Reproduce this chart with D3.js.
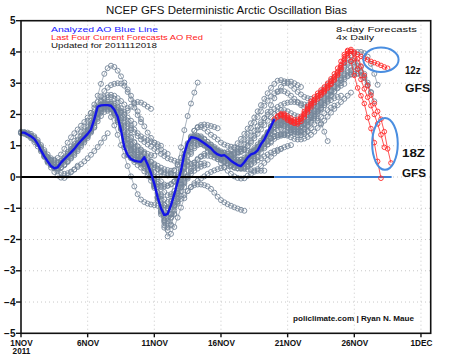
<!DOCTYPE html>
<html><head><meta charset="utf-8">
<script src="https://cdn.jsdelivr.net/npm/d3@7/dist/d3.min.js"></script>
<style>
html,body{margin:0;padding:0;background:#fff;}
svg{display:block;}
text{font-family:"Liberation Sans",Arial,sans-serif;}
</style></head><body>
<svg id="chart" width="474" height="355"></svg>
<script>
// ---------- DATA ----------
const xTickDays = [0, 5, 10, 15, 20, 25, 30];
const xTickLabels = ["1NOV", "6NOV", "11NOV", "16NOV", "21NOV", "26NOV", "1DEC"];
const yTicks = [5, 4, 3, 2, 1, 0, -1, -2, -3, -4, -5];
const stepDays = 0.25; // 6-hourly values

// analyzed AO (blue), from day 0 every 6 h
const analyzedStart = 0;
const analyzed = [1.42,1.42,1.36,1.30,1.22,1.06,0.85,0.66,0.50,0.35,0.28,0.31,0.46,0.57,0.68,0.79,
  0.90,1.04,1.16,1.27,1.38,1.52,1.85,2.25,2.29,2.30,2.30,2.28,2.15,1.93,1.50,0.95,
  0.70,0.58,0.52,0.50,0.49,0.63,0.40,0.12,-0.22,-0.65,-1.00,-1.22,-1.18,-0.90,-0.55,-0.15,
  0.20,0.75,1.10,1.27,1.26,1.22,1.15,1.08,1.00,0.92,0.80,0.72,0.68,0.70,0.62,0.52,
  0.45,0.38,0.35,0.47,0.62,0.72,0.76,0.85,1.05,1.20,1.42,1.62,1.85];

// gray 8-day forecasts: start day and 6-hourly values
const grayStarts = [0, 0, 0, 0, 0, 0.25, 0.5, 1.0, 1.25, 1.75, 2.0, 2.5, 3.0, 3.5, 3.75, 4.0, 4.5, 5.0, 5.25,
  5.75, 6.0, 6.75, 7.0, 7.25, 7.75, 8.0, 8.75, 9.0, 9.5, 9.75, 10.25, 10.75, 11.0, 11.5, 12.0, 12.25,
  12.75, 13.0, 13.5, 13.75, 14.25, 14.5, 15.0, 15.5, 16.0, 16.25, 16.75, 17.0, 17.25, 17.75, 18.0, 18.25, 18.5, 18.75];
const grayRuns = [
  [1.45,1.40,1.33,1.24,1.12,0.98,0.82,0.64,0.46,0.30,0.16,0.05,-0.02,-0.03,0.05,0.15,0.24,0.36],
  [1.42,1.40,1.35,1.28,1.18,1.05,0.90,0.74,0.58,0.43,0.30,0.20,0.13,0.10,0.12,0.17,0.24,0.32,0.41,0.50,0.60,0.71,0.83,0.96,1.10,1.25,1.40],
  [1.42,1.44,1.42,1.38,1.30,1.18,1.02,0.86,0.72,0.60,0.52,0.48,0.50,0.56,0.64,0.74,0.86,0.98,1.10,1.22,1.34,1.46,1.58],
  [1.40,1.38,1.34,1.28,1.20,1.08,0.92,0.76,0.62,0.50,0.42],
  [1.42,1.41,1.37,1.32,1.25,1.10,0.92,0.72,0.55,0.44,0.38,0.40,0.45,0.58,0.74,0.90,1.05,1.18,1.30,1.44,1.60,1.80,2.02,2.25,2.45,2.55,2.62,2.63,2.60,2.52,2.43,2.32,2.20],
  [1.42,1.38,1.33,1.25,1.12,0.96,0.80,0.65,0.53,0.46,0.45,0.52,0.63,0.75,0.86,0.97,1.08,1.20,1.33,1.48,1.66,1.88,2.10,2.28,2.38,2.40,2.34,2.22,2.06,1.90,1.75,1.62,1.50],
  [1.36,1.30,1.20,1.05,0.86,0.67,0.50,0.38,0.30,0.27,0.30,0.38,0.48,0.59,0.70,0.83,0.97,1.11,1.25,1.42,1.60,1.78,1.95,2.08,2.17,2.21,2.20,2.14,2.06,1.98,1.90,1.80,1.70],
  [1.22,1.08,0.90,0.74,0.62,0.55,0.55,0.61,0.72,0.90,1.10,1.27,1.40,1.52,1.64,1.76,1.90,2.05,2.22,2.40,2.58,2.75,2.86,2.94,2.98,3.00,2.99,2.92,2.72,2.48,2.22,1.98,1.76],
  [1.06,0.88,0.70,0.54,0.40,0.30,0.26,0.30,0.40,0.52,0.66,0.80,0.94,1.08,1.20,1.32,1.46,1.64,1.86,2.06,2.18,2.22,2.18,2.05,1.86,1.64,1.42,1.22,1.06,0.94,0.86,0.80,0.76],
  [0.66,0.52,0.40,0.32,0.29,0.30,0.38,0.50,0.62,0.75,0.88,1.02,1.16,1.30,1.50,1.72,1.92,2.10,2.22,2.30,2.32,2.28,2.20,2.12,2.08,2.12,2.25,2.38,2.40,2.38,2.32,2.25,2.18],
  [0.50,0.38,0.30,0.30,0.40,0.52,0.65,0.78,0.92,1.06,1.20,1.34,1.48,1.64,1.82,2.00,2.16,2.26,2.30,2.26,2.16,2.00,1.82,1.62,1.42,1.25,1.10,0.98,0.88,0.80,0.74,0.70,0.68],
  [0.28,0.33,0.45,0.58,0.70,0.83,0.95,1.08,1.22,1.36,1.50,1.72,1.98,2.22,2.40,2.50,2.55,2.55,2.50,2.38,2.20,2.00,1.80,1.65,1.52,1.40,1.30,1.24,1.18,1.14,1.10,1.05,1.00],
  [0.46,0.62,0.80,0.98,1.15,1.30,1.45,1.62,1.80,2.05,2.32,2.60,2.98,3.30,3.48,3.56,3.52,3.40,3.22,3.02,2.80,2.60,2.35,2.10,1.85,1.62,1.42,1.25,1.10,0.98,0.88,0.80,0.74],
  [0.68,0.80,0.92,1.04,1.15,1.26,1.38,1.55,1.80,2.05,2.22,2.30,2.30,2.22,2.05,1.82,1.56,1.30,1.08,0.92,0.80,0.72,0.66,0.60,0.54,0.48,0.42,0.36,0.30,0.25,0.22,0.20,0.20],
  [0.79,0.92,1.05,1.18,1.31,1.45,1.65,1.90,2.12,2.30,2.36,2.35,2.25,2.10,1.88,1.62,1.35,1.10,0.95,0.82,0.70,0.60,0.52,0.44,0.36,0.30,0.24,0.19,0.14,0.10,0.08,0.06,0.05],
  [0.90,1.02,1.14,1.26,1.40,1.58,1.80,2.02,2.18,2.26,2.26,2.18,2.02,1.80,1.55,1.30,1.06,0.86,0.70,0.56,0.42,0.28,0.14,0.00,-0.12,-0.22,-0.28,-0.30,-0.28,-0.22,-0.14,-0.05,0.05],
  [1.16,1.27,1.40,1.60,1.82,2.00,2.15,2.26,2.33,2.36,2.35,2.25,2.08,1.88,1.70,1.56,1.43,1.31,1.20,1.12,1.04,0.97,0.90,0.82,0.74,0.67,0.60,0.56,0.52,0.48,0.45,0.42,0.40],
  [1.38,1.55,1.78,2.02,2.20,2.30,2.32,2.26,2.12,1.92,1.68,1.44,1.22,1.04,0.90,0.78,0.68,0.58,0.46,0.32,0.16,0.00,-0.14,-0.24,-0.28,-0.24,-0.14,0.00,0.14,0.26,0.36,0.42,0.46],
  [1.52,1.80,2.05,2.20,2.22,2.12,1.92,1.65,1.35,1.02,0.68,0.35,0.02,-0.30,-0.55,-0.72,-0.80,-0.85,-0.88,-0.90,-0.92,-0.95,-0.98,-1.00,-0.62,-0.15,0.38,0.95,1.50,1.95,2.35,2.70,3.02],
  [2.25,2.32,2.34,2.28,2.16,1.98,1.76,1.52,1.28,1.06,0.88,0.74,0.64,0.56,0.46,0.32,0.14,-0.08,-0.32,-0.55,-0.72,-0.80,-0.78,-0.68,-0.52,-0.34,-0.16,0.02,0.18,0.30,0.38,0.42,0.44],
  [2.29,2.30,2.25,2.18,2.05,1.82,1.55,1.28,1.02,0.85,0.70,0.56,0.45,0.35,0.24,0.12,0.00,-0.15,-0.32,-0.48,-0.58,-0.55,-0.45,-0.35,-0.25,-0.12,0.00,0.10,0.20,0.27,0.33,0.37,0.40],
  [2.28,2.22,2.08,1.88,1.65,1.45,1.28,1.12,0.98,0.85,0.74,0.62,0.50,0.38,0.26,0.15,0.08,0.05,0.10,0.22,0.40,0.62,0.85,1.08,1.30,1.48,1.60,1.66,1.68,1.66,1.63,1.60,1.56],
  [2.15,1.90,1.58,1.22,0.92,0.72,0.60,0.54,0.50,0.46,0.36,0.18,-0.05,-0.32,-0.62,-0.88,-1.02,-1.02,-0.90,-0.70,-0.46,-0.20,0.05,0.28,0.46,0.58,0.65,0.68,0.68,0.66,0.62,0.58,0.55],
  [1.93,1.55,1.15,0.82,0.62,0.48,0.38,0.30,0.18,0.04,-0.12,-0.30,-0.50,-0.72,-0.90,-1.00,-0.98,-0.90,-0.80,-0.70,-0.58,-0.45,-0.32,-0.20,-0.12,-0.05,0.02,0.10,0.16,0.21,0.25,0.28,0.30],
  [0.95,0.72,0.60,0.54,0.52,0.52,0.48,0.34,0.10,-0.20,-0.55,-0.90,-1.18,-1.30,-1.20,-0.95,-0.60,-0.22,0.15,0.48,0.74,0.92,1.02,1.05,1.02,0.96,0.88,0.80,0.72,0.65,0.58,0.52,0.47],
  [0.70,0.62,0.56,0.52,0.50,0.40,0.22,-0.02,-0.30,-0.62,-0.98,-1.30,-1.40,-1.30,-1.08,-0.85,-0.60,-0.32,-0.05,0.20,0.40,0.55,0.66,0.74,0.80,0.80,0.77,0.73,0.70,0.68,0.65,0.62,0.60],
  [0.50,0.45,0.42,0.25,0.00,-0.35,-0.75,-1.20,-1.62,-1.90,-1.82,-1.60,-1.30,-0.98,-0.68,-0.45,-0.32,-0.26,-0.24,-0.24,-0.26,-0.30,-0.38,-0.50,-0.63,-0.74,-0.81,-0.87,-0.92,-0.97,-1.01,-1.05,-1.08],
  [0.49,0.58,0.40,0.10,-0.25,-0.68,-1.10,-1.45,-1.62,-1.52,-1.20,-0.78,-0.32,0.12,0.50,0.80,0.98,1.06,1.06,1.00,0.92,0.84,0.74,0.64,0.55,0.47,0.40,0.34,0.30,0.28,0.30,0.34,0.40],
  [0.40,0.12,-0.22,-0.65,-1.15,-1.55,-1.70,-1.55,-1.18,-0.70,-0.20,0.30,0.82,1.25,1.48,1.58,1.60,1.55,1.45,1.35,1.28,1.20,1.10,1.04,1.00,0.97,0.94,0.91,0.88,0.86,0.84,0.82,0.80],
  [0.12,-0.25,-0.70,-1.10,-1.38,-1.42,-1.20,-0.82,-0.36,0.10,0.52,0.86,1.08,1.18,1.20,1.16,1.10,1.02,0.95,0.88,0.82,0.76,0.70,0.64,0.58,0.52,0.48,0.46,0.46,0.48,0.52,0.58,0.64],
  [-0.65,-1.05,-1.40,-1.50,-1.30,-0.92,-0.45,0.00,0.45,0.85,1.15,1.28,1.32,1.30,1.22,1.12,1.02,0.92,0.84,0.76,0.68,0.60,0.52,0.44,0.36,0.30,0.26,0.24,0.22,0.21,0.20,0.20,0.20],
  [-1.22,-1.30,-1.18,-0.90,-0.52,-0.10,0.32,0.70,0.95,1.10,1.14,1.12,1.08,1.05,0.98,0.90,0.82,0.75,0.70,0.64,0.59,0.55,0.54,0.55,0.57,0.60,0.66,0.73,0.80,0.90,0.97,1.04,1.10],
  [-1.18,-0.95,-0.62,-0.22,0.18,0.58,0.92,1.14,1.24,1.24,1.18,1.10,1.02,0.94,0.86,0.78,0.72,0.66,0.60,0.54,0.48,0.44,0.42,0.44,0.50,0.58,0.68,0.80,0.94,1.06,1.16,1.24,1.30],
  [-0.55,-0.12,0.25,0.65,1.00,1.20,1.30,1.28,1.22,1.12,1.00,0.90,0.80,0.70,0.60,0.52,0.44,0.36,0.30,0.27,0.28,0.31,0.35,0.40,0.46,0.53,0.60,0.66,0.72,0.78,0.83,0.87,0.90],
  [0.20,0.62,0.98,1.18,1.25,1.22,1.14,1.04,0.94,0.84,0.74,0.64,0.56,0.50,0.44,0.38,0.32,0.28,0.26,0.28,0.34,0.42,0.52,0.64,0.78,0.92,1.04,1.14,1.22,1.28,1.32,1.34,1.36],
  [0.75,1.05,1.22,1.26,1.24,1.18,1.08,0.96,0.83,0.70,0.57,0.44,0.32,0.20,0.10,0.02,-0.03,-0.05,-0.04,0.04,0.10,0.17,0.25,0.35,0.45,0.55,0.65,0.75,0.83,0.90,0.95,0.99,1.02],
  [1.27,1.30,1.30,1.26,1.20,1.12,1.04,0.96,0.88,0.82,0.78,0.74,0.72,0.72,0.75,0.80,0.88,0.98,1.10,1.24,1.38,1.52,1.66,1.80,1.92,2.02,2.10,2.14,2.14,2.10,2.04,1.98,1.94],
  [1.26,1.22,1.16,1.08,1.00,0.93,0.87,0.82,0.78,0.75,0.74,0.74,0.76,0.79,0.83,0.88,1.00,1.15,1.32,1.50,1.68,1.88,2.08,2.30,2.52,2.72,2.88,3.00,3.05,3.05,3.00,2.94,2.88],
  [1.15,1.08,1.00,0.92,0.84,0.76,0.70,0.66,0.62,0.58,0.55,0.54,0.56,0.62,0.70,0.80,0.92,1.04,1.16,1.28,1.40,1.50,1.58,1.64,1.66,1.64,1.60,1.54,1.48,1.44,1.42,1.44,1.48],
  [1.08,1.02,0.95,0.88,0.82,0.78,0.78,0.80,0.86,0.95,1.08,1.22,1.38,1.55,1.72,1.90,2.10,2.30,2.50,2.68,2.85,2.98,3.08,3.10,3.06,3.00,2.92,2.82,2.72,2.64,2.56,2.52,2.50],
  [0.92,0.82,0.74,0.68,0.66,0.66,0.70,0.78,0.90,1.04,1.20,1.38,1.56,1.74,1.92,2.10,2.28,2.44,2.58,2.68,2.74,2.76,2.74,2.68,2.60,2.50,2.40,2.30,2.22,2.16,2.12,2.10,2.10],
  [0.80,0.74,0.70,0.67,0.65,0.68,0.73,0.80,0.90,1.04,1.18,1.33,1.48,1.62,1.75,1.88,2.00,2.09,2.17,2.24,2.30,2.35,2.38,2.40,2.40,2.38,2.35,2.32,2.30,2.30,2.32,2.34,2.36],
  [0.68,0.62,0.55,0.48,0.42,0.40,0.43,0.50,0.60,0.70,0.80,0.90,1.00,1.08,1.16,1.23,1.30,1.34,1.37,1.39,1.40,1.42,1.46,1.52,1.60,1.72,1.84,1.92,1.94,1.88,1.72,1.45,1.15],
  [0.62,0.54,0.48,0.44,0.44,0.50,0.58,0.68,0.78,0.90,1.02,1.14,1.26,1.36,1.44,1.50,1.54,1.54,1.50,1.44,1.38,1.34,1.34,1.38,1.46,1.56,1.68,1.80,1.92,2.04,2.14,2.22,2.28],
  [0.45,0.44,0.48,0.55,0.65,0.76,0.87,0.98,1.10,1.23,1.36,1.48,1.60,1.68,1.74,1.78,1.80,1.78,1.74,1.71,1.70,1.74,1.82,1.91,2.00,2.10,2.20,2.30,2.40,2.46,2.52,2.56,2.60],
  [0.38,0.38,0.46,0.58,0.70,0.82,0.94,1.08,1.22,1.36,1.48,1.58,1.64,1.66,1.64,1.58,1.50,1.44,1.42,1.46,1.54,1.66,1.80,1.94,2.08,2.22,2.36,2.50,2.62,2.74,2.84,2.92,2.98],
  [0.47,0.58,0.67,0.76,0.85,0.95,1.05,1.15,1.25,1.30,1.33,1.35,1.35,1.32,1.27,1.22,1.20,1.20,1.23,1.28,1.35,1.45,1.57,1.68,1.80,1.93,2.06,2.18,2.30,2.40,2.50,2.60,2.70],
  [0.62,0.74,0.84,0.96,1.10,1.24,1.40,1.54,1.66,1.74,1.78,1.78,1.72,1.62,1.52,1.46,1.46,1.52,1.62,1.74,1.88,2.02,2.16,2.30,2.44,2.58,2.72,2.86,3.00,3.12,3.22,3.28,3.30],
  [0.72,0.82,0.95,1.10,1.24,1.37,1.49,1.60,1.67,1.72,1.75,1.75,1.70,1.64,1.60,1.60,1.66,1.76,1.88,2.00,2.14,2.30,2.45,2.60,2.73,2.86,2.98,3.10,3.18,3.24,3.28,3.30,3.30],
  [0.85,1.02,1.20,1.38,1.55,1.66,1.75,1.81,1.85,1.82,1.74,1.66,1.60,1.62,1.70,1.82,1.98,2.10,2.22,2.36,2.50,2.62,2.75,2.88,3.00,3.12,3.25,3.35,3.40,3.38,3.32,3.26,3.20],
  [1.05,1.24,1.44,1.62,1.76,1.84,1.86,1.80,1.70,1.60,1.54,1.54,1.60,1.70,1.84,1.98,2.12,2.26,2.40,2.54,2.66,2.78,2.90,3.02,3.16,3.30,3.42,3.50,3.52,3.46,3.34,3.16,2.94],
  [1.20,1.40,1.60,1.78,1.90,1.96,1.95,1.88,1.80,1.72,1.70,1.75,1.88,2.04,2.20,2.36,2.50,2.62,2.74,2.86,2.98,3.10,3.24,3.40,3.56,3.66,3.70,3.66,3.55,3.38,3.18,2.95,2.70],
  [1.42,1.62,1.80,1.90,1.92,1.86,1.76,1.66,1.60,1.62,1.70,1.84,2.00,2.16,2.30,2.44,2.56,2.68,2.80,2.92,3.04,3.18,3.34,3.50,3.62,3.70,3.72,3.66,3.52,3.30,3.02,2.72,2.42],
  [1.62,1.80,1.92,1.95,1.90,1.82,1.76,1.74,1.78,1.88,2.02,2.18,2.34,2.48,2.60,2.72,2.84,2.96,3.08,3.20,3.34,3.50,3.66,3.80,3.90,3.96,4.00,4.00,3.96,3.85,3.62,3.30,2.95]
];

// last four forecasts (red): 00z, 06z, 12z, 18z
const redStarts = [19.0, 19.25, 19.5, 19.75];
const redRuns = [
  [1.85,1.95,2.02,1.98,1.90,1.82,1.76,1.78,1.88,2.04,2.20,2.35,2.48,2.60,2.70,2.80,2.92,3.06,3.20,3.36,3.58,3.85,4.02,3.70,3.25,2.85,2.60,2.35,1.90,1.55,1.10,0.50,-0.04],
  [1.92,1.96,1.90,1.82,1.76,1.72,1.75,1.85,2.00,2.15,2.30,2.44,2.56,2.66,2.76,2.88,3.00,3.14,3.30,3.50,3.75,3.95,4.02,3.78,3.45,3.12,2.82,2.55,2.28,2.00,1.70,1.35,0.95],
  [2.00,2.02,1.95,1.88,1.82,1.84,1.94,2.10,2.26,2.42,2.56,2.68,2.78,2.88,3.00,3.14,3.30,3.48,3.70,3.92,4.05,4.08,4.00,3.92,3.86,3.80,3.75,3.70,3.66,3.62,3.57,3.52,3.48],
  [1.95,1.86,1.78,1.72,1.70,1.78,1.92,2.08,2.24,2.38,2.50,2.62,2.72,2.84,2.96,3.10,3.26,3.44,3.66,3.88,4.02,3.95,3.78,3.55,3.25,2.92,2.62,2.35,2.10,1.85,1.45,0.90,0.45]
];

// annotation anchors (day, value) and the zero-line split
const analysisEndDay = 19.0;
const futureZeroEndDay = 27.8;
const circle12z = {day: 27.0, value: 3.75, rxDays: 1.32, ryUnits: 0.39};
const circle18z = {day: 27.3, value: 1.06, rxDays: 0.96, ryUnits: 0.83};

// ---------- CHART ----------
const svg = d3.select("#chart");
const pL = 21, pR = 430.7, pT = 20.7, pB = 333.3;
const x = d3.scaleLinear().domain([0, 30.73]).range([pL, pR]);
const y = d3.scaleLinear().domain([-5, 5]).range([pB, pT]);

// grid
const grid = svg.append("g");
grid.selectAll("line.hy").data(yTicks.filter(v => v > -5 && v < 5)).enter().append("line")
  .attr("x1", pL).attr("x2", pR).attr("y1", d => y(d)).attr("y2", d => y(d))
  .attr("stroke", "#c8c8c8").attr("stroke-width", 1).attr("stroke-dasharray", "1,3");
grid.selectAll("line.vx").data(xTickDays.filter(d => d > 0)).enter().append("line")
  .attr("x1", d => x(d)).attr("x2", d => x(d)).attr("y1", pT).attr("y2", pB)
  .attr("stroke", "#c8c8c8").attr("stroke-width", 1).attr("stroke-dasharray", "1,3");

function pts(start, vals) {
  return vals.map((v, i) => ({d: start + i * stepDays, v}));
}
const line = d3.line().x(p => x(p.d)).y(p => y(p.v));

// gray forecasts
const gGray = svg.append("g");
grayRuns.forEach((run, k) => {
  const p = pts(grayStarts[k], run);
  gGray.append("path").attr("d", line(p)).attr("fill", "none")
    .attr("stroke", "#8593a3").attr("stroke-width", 0.7);
  gGray.selectAll(null).data(p).enter().append("circle")
    .attr("cx", q => x(q.d)).attr("cy", q => y(q.v)).attr("r", 2.5)
    .attr("fill", "none").attr("stroke", "#76879a").attr("stroke-width", 0.9);
});

// zero line: black through analysis period, blue after
svg.append("line").attr("x1", x(0)).attr("x2", x(analysisEndDay)).attr("y1", y(0)).attr("y2", y(0))
  .attr("stroke", "#000").attr("stroke-width", 2);
svg.append("line").attr("x1", x(analysisEndDay)).attr("x2", x(futureZeroEndDay)).attr("y1", y(0)).attr("y2", y(0))
  .attr("stroke", "#3d7fd6").attr("stroke-width", 2);

// red forecasts
const gRed = svg.append("g");
redRuns.forEach((run, k) => {
  const p = pts(redStarts[k], run);
  gRed.append("path").attr("d", line(p)).attr("fill", "none")
    .attr("stroke", "#ff2a2a").attr("stroke-width", 0.8);
  gRed.selectAll(null).data(p).enter().append("circle")
    .attr("cx", q => x(q.d)).attr("cy", q => y(q.v)).attr("r", 2.3)
    .attr("fill", "none").attr("stroke", "#ff2a2a").attr("stroke-width", 0.9);
});

// analyzed blue line
svg.append("path").attr("d", line(pts(analyzedStart, analyzed))).attr("fill", "none")
  .attr("stroke", "#1414e6").attr("stroke-width", 2.4).attr("stroke-linejoin", "round");

// frame
svg.append("rect").attr("x", pL).attr("y", pT).attr("width", pR - pL).attr("height", pB - pT)
  .attr("fill", "none").attr("stroke", "#111").attr("stroke-width", 1.6);

// y axis ticks & labels
const gy = svg.append("g");
gy.selectAll("line").data(yTicks).enter().append("line")
  .attr("x1", pL - 5).attr("x2", pL).attr("y1", d => y(d)).attr("y2", d => y(d))
  .attr("stroke", "#111").attr("stroke-width", 1.4);
gy.selectAll("text").data(yTicks).enter().append("text")
  .attr("x", pL - 5.5).attr("y", d => y(d) + 3.6).attr("text-anchor", "end")
  .attr("font-size", 10).attr("font-weight", "bold").attr("fill", "#111")
  .text(d => d < 0 ? "\u2212" + Math.abs(d) : String(d));

// x axis ticks & labels
const gx = svg.append("g");
gx.selectAll("line").data(xTickDays).enter().append("line")
  .attr("x1", d => x(d)).attr("x2", d => x(d)).attr("y1", pB).attr("y2", pB + 4)
  .attr("stroke", "#111").attr("stroke-width", 1.4);
gx.selectAll("text").data(xTickDays).enter().append("text")
  .attr("x", d => x(d) + 0.5).attr("y", pB + 12.5).attr("text-anchor", "middle")
  .attr("font-size", 8.2).attr("font-weight", "bold").attr("fill", "#111")
  .text((d, i) => xTickLabels[i]);
svg.append("text").attr("x", x(0) + 0.5).attr("y", pB + 21).attr("text-anchor", "middle")
  .attr("font-size", 8.2).attr("font-weight", "bold").attr("fill", "#111").text("2011");

// title
svg.append("text").attr("x", 106).attr("y", 14).attr("font-size", 11)
  .attr("textLength", 241).attr("lengthAdjust", "spacingAndGlyphs").attr("fill", "#111")
  .text("NCEP GFS Deterministic Arctic Oscillation Bias");

// legend texts
function label(txt, tx, ty, w, color, size, weight) {
  svg.append("text").attr("x", tx).attr("y", ty).attr("font-size", size)
    .attr("font-weight", weight || "normal").attr("fill", color)
    .attr("textLength", w).attr("lengthAdjust", "spacingAndGlyphs").text(txt);
}
label("Analyzed AO Blue Line", 51, 32.3, 107, "#1a1aff", 8);
label("Last Four Current Forecasts AO Red", 51, 40.3, 152, "#ff1a1a", 8);
label("Updated for 2011112018", 51, 48.3, 106, "#111", 8);
label("8-day Forecasts", 336, 32.3, 81, "#111", 8);
label("4x Daily", 336, 40.3, 38, "#111", 8);
label("policlimate.com | Ryan N. Maue", 293, 320.5, 121, "#111", 7.5, "bold");

// annotations
label("12z", 405, 74, 15.5, "#111", 10.5, "bold");
label("GFS", 405, 92.3, 25, "#111", 10.5, "bold");
label("18Z", 402, 157, 23, "#111", 10.5, "bold");
label("GFS", 402, 177, 24, "#111", 10.5, "bold");

[circle12z, circle18z].forEach(c => {
  svg.append("ellipse").attr("cx", x(c.day)).attr("cy", y(c.value))
    .attr("rx", x(c.day + c.rxDays) - x(c.day)).attr("ry", y(0) - y(c.ryUnits))
    .attr("fill", "none").attr("stroke", "#4a8ee0").attr("stroke-width", 2);
});
</script>
</body></html>
